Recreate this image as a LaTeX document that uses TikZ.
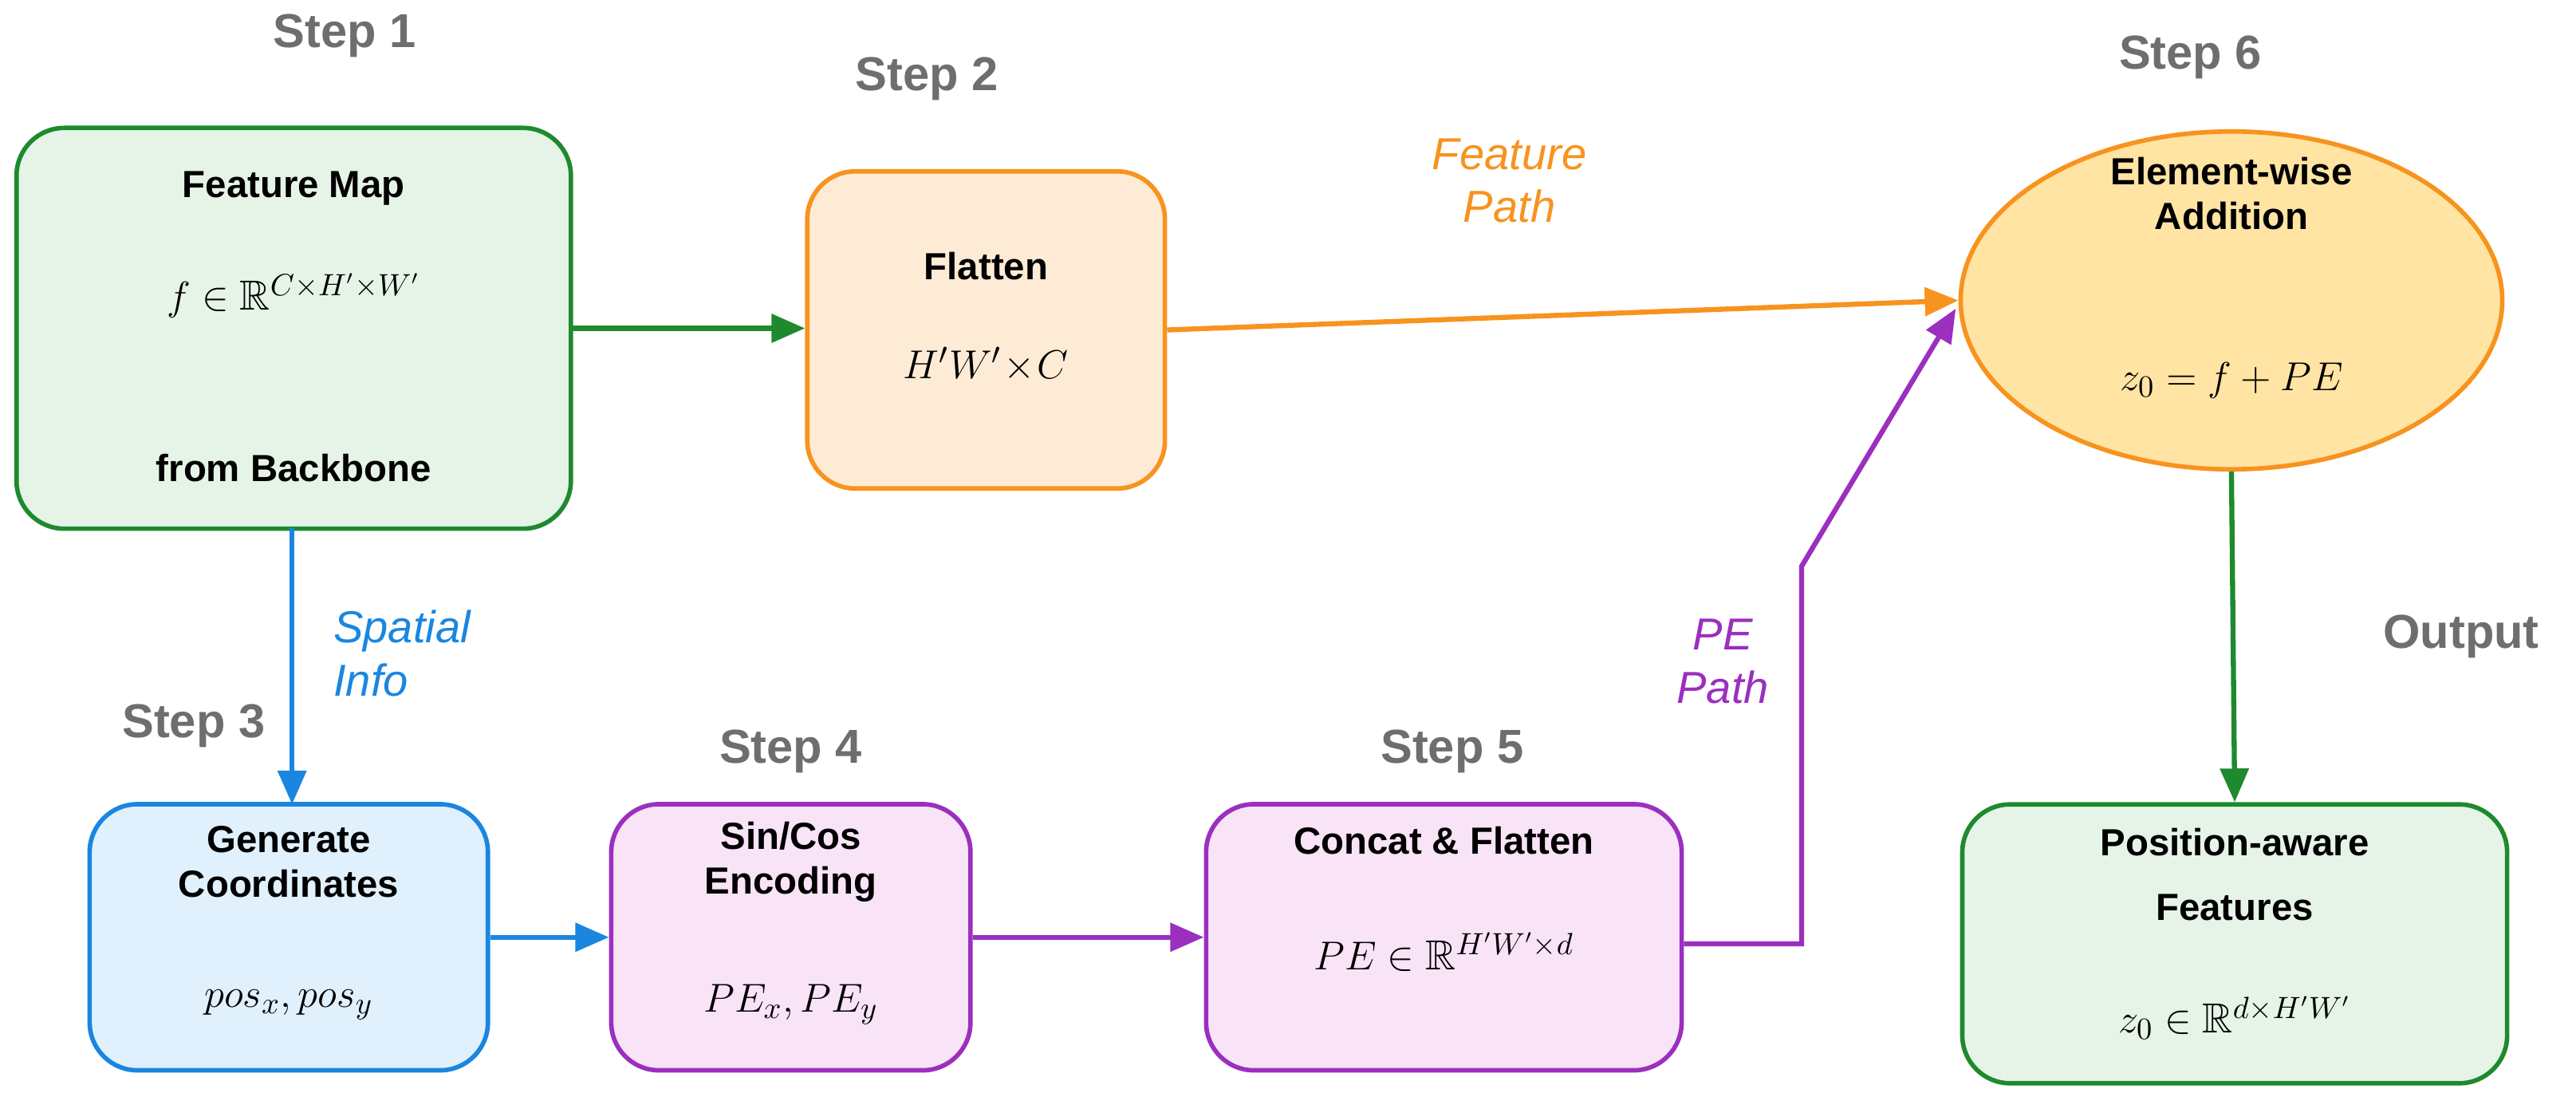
\documentclass[tikz,border=0pt]{standalone}
\usepackage{fontspec}
\setmainfont{Liberation Sans}
\usepackage{amsmath,amssymb}
\usetikzlibrary{shapes.geometric,arrows.meta}
\definecolor{gG}{HTML}{1E8A2E}\definecolor{gF}{HTML}{E6F4E8}
\definecolor{oG}{HTML}{F7931E}\definecolor{oF}{HTML}{FDEBD6}\definecolor{eF}{HTML}{FFE4A3}
\definecolor{bG}{HTML}{1A86E0}\definecolor{bF}{HTML}{E0F0FD}
\definecolor{pG}{HTML}{9B2FBF}\definecolor{pF}{HTML}{F8E4F6}
\definecolor{stp}{HTML}{6E6E6E}
\begin{document}
\begin{tikzpicture}[x=0.0206cm,y=-0.0206cm,
 box/.style={draw,line width=1.6pt,rounded corners=0.6cm,align=center,inner sep=0pt},
 stepl/.style={text=stp,font=\fontsize{17}{20}\selectfont\bfseries},
 ttl/.style={font=\fontsize{13.5}{16}\selectfont\bfseries},
 mth/.style={font=\fontsize{15}{18}\selectfont},
 lbl/.style={font=\fontsize{16}{19}\selectfont\itshape,align=left},
 arr/.style={line width=1.8pt,-{Triangle[length=12pt,width=10pt]}}]
\useasboundingbox (0,0) rectangle (1570,673);
\node[box,draw=gG,fill=gF,minimum width=6.96cm,minimum height=5.03cm] (fm) at (179,200) {};
\node[ttl] (fmt) at (179,115) {Feature Map};
\node[mth] (fmm) at (179,180) {$f\in\mathbb{R}^{C\times H'\times W'}$};
\node[ttl] (fmb) at (179,285) {from Backbone};
\node[box,draw=oG,fill=oF,minimum width=4.49cm,minimum height=3.98cm] (fl) at (601,201) {};
\node[ttl] (flt) at (601,162) {Flatten};
\node[mth] (flm) at (601,222) {$H'W'\!\times\! C$};
\node[ellipse,draw=oG,fill=eF,line width=1.6pt,minimum width=6.8cm,minimum height=4.24cm,inner sep=0pt] (el) at (1360,183) {};
\node[ttl,align=center] (elt) at (1360,118) {Element-wise\\Addition};
\node[mth] (elm) at (1360,232) {$z_0=f+PE$};
\node[box,draw=bG,fill=bF,minimum width=5.0cm,minimum height=3.34cm] (gc) at (176,571) {};
\node[ttl,align=center] (gct) at (176,525) {Generate\\Coordinates};
\node[mth] (gcm) at (176,612) {$pos_x, pos_y$};
\node[box,draw=pG,fill=pF,minimum width=4.51cm,minimum height=3.34cm] (sc) at (482,571) {};
\node[ttl,align=center] (sct) at (482,525) {Sin/Cos\\Encoding};
\node[mth] (scm) at (482,612) {$PE_x, PE_y$};
\node[box,draw=pG,fill=pF,minimum width=5.97cm,minimum height=3.34cm] (cf) at (880,571) {};
\node[ttl] (cft) at (880,512) {Concat \& Flatten};
\node[mth] (cfm) at (880,580) {$PE\in\mathbb{R}^{H'W'\times d}$};
\node[box,draw=gG,fill=gF,minimum width=6.84cm,minimum height=3.5cm] (pa) at (1362,575) {};
\node[ttl] (pat) at (1362,513) {Position-aware};
\node[ttl] (pat2) at (1362,553) {Features};
\node[mth] (pam) at (1362,620) {$z_0\in\mathbb{R}^{d\times H'W'}$};
\node[stepl] (s1) at (210,22) {Step 1};
\node[stepl] (s2) at (565,48) {Step 2};
\node[stepl] (s6) at (1335,35) {Step 6};
\node[stepl] (s3) at (118,442) {Step 3};
\node[stepl] (s4) at (482,458) {Step 4};
\node[stepl] (s5) at (885,458) {Step 5};
\node[stepl] (so) at (1500,388) {Output};
\coordinate (a1) at (348,200);
\draw[arr,gG] (a1) -- (fl.west |- a1);
\draw[arr,oG] (fl.east) -- (el.west);
\node[lbl,text=oG,align=center] (fp) at (920,110) {Feature\\Path};
\coordinate (b1) at (178,322); \coordinate (b2) at (178,490);
\draw[arr,bG] (b1) -- (b2);
\node[lbl,text=bG] (si) at (245,398) {Spatial\\Info};
\draw[arr,bG] (gc.east) -- (sc.west);
\draw[arr,pG] (sc.east) -- (cf.west);
\coordinate (k1) at (1098,575); \coordinate (k2) at (1098,345);
\coordinate (k3) at (1192,188);
\draw[arr,pG] (cf.east |- k1) -- (k1) -- (k2) -- (k3);
\node[lbl,text=pG,align=center] (pp) at (1050,403) {PE\\Path};
\draw[arr,gG] (el.south) -- (pa.north);
\end{tikzpicture}
\end{document}
